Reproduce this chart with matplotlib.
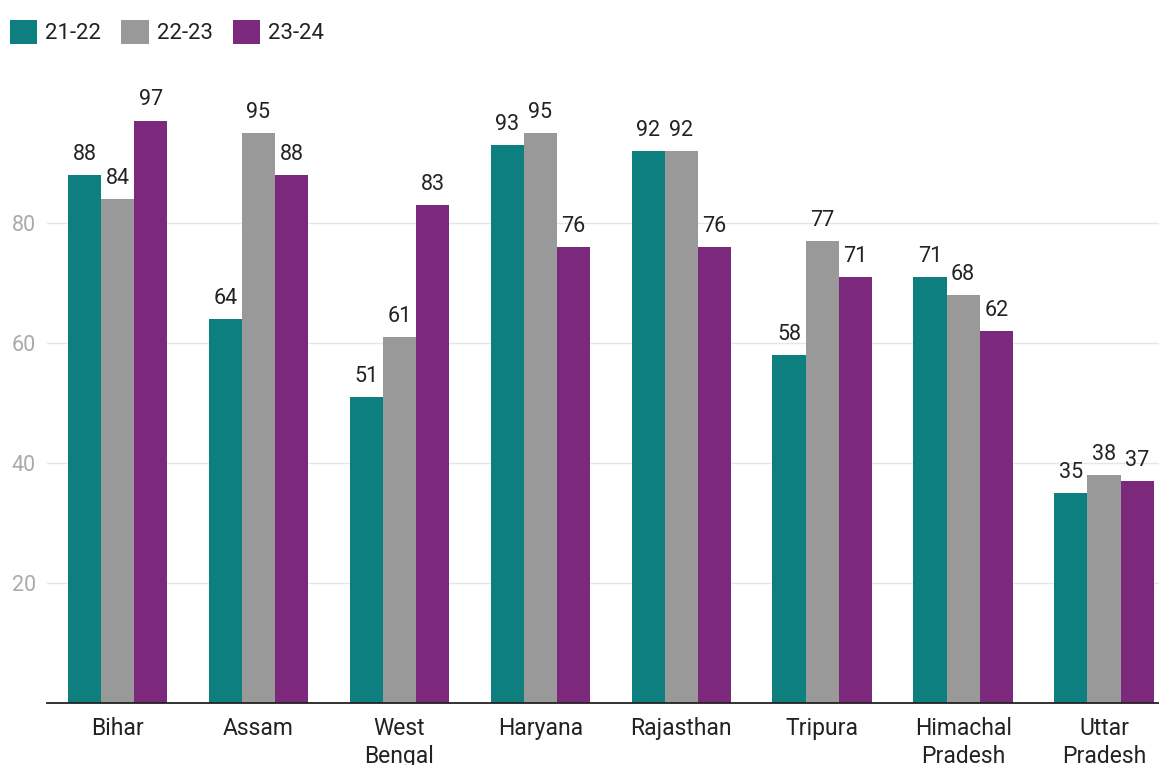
import matplotlib.pyplot as plt
import numpy as np

plt.rcParams['font.family'] = ['Roboto', 'DejaVu Sans']

states = ['Bihar', 'Assam', 'West\nBengal', 'Haryana', 'Rajasthan', 'Tripura', 'Himachal\nPradesh', 'Uttar\nPradesh']
y2122 = [88, 64, 51, 93, 92, 58, 71, 35]
y2223 = [84, 95, 61, 95, 92, 77, 68, 38]
y2324 = [97, 88, 83, 76, 76, 71, 62, 37]
series = [('21-22', y2122, '#0d7f7e'), ('22-23', y2223, '#999999'), ('23-24', y2324, '#7b287d')]

fig = plt.figure(figsize=(11.59, 7.65), dpi=100)
ax = fig.add_axes([0.0406, 0.081, 0.9594, 0.824])

x = np.arange(len(states))
w = 0.235
for i, (name, vals, col) in enumerate(series):
    bars = ax.bar(x + (i - 1) * w, vals, w, color=col, label=name, zorder=2)
    for b, v in zip(bars, vals):
        ax.text(b.get_x() + b.get_width() / 2, v + 1.7, str(v), ha='center', va='bottom',
                fontsize=15.5, color='#222222')

ax.set_xlim(-0.5, 7.39)
ax.set_ylim(0, 105)
ax.set_yticks([20, 40, 60, 80])
ax.set_xticks(x)
ax.set_xticklabels(states, fontsize=16.5, color='#222222', linespacing=1.3)
ax.tick_params(axis='y', labelsize=15.5, labelcolor='#aaaaaa', length=0, pad=8)
ax.tick_params(axis='x', length=0, pad=10)
ax.grid(axis='y', color='#e6e6e6', linewidth=1, zorder=0)
for s in ['top', 'right', 'left']:
    ax.spines[s].set_visible(False)
ax.spines['bottom'].set_color('#222222')
ax.spines['bottom'].set_linewidth(1.3)
ax.spines['bottom'].set_zorder(3)

fig.legend(loc='upper left', bbox_to_anchor=(-0.009, 1.0), ncol=3, frameon=False,
           fontsize=16, handlelength=1.25, handleheight=1.25, handletextpad=0.35,
           columnspacing=0.9, labelcolor='#222222')

fig.savefig('out.png', dpi=100)
